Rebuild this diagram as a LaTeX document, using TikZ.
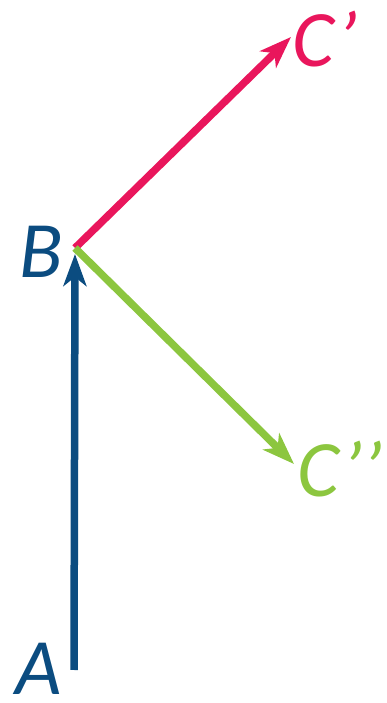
\documentclass[tikz,border=0pt]{standalone}
\usepackage{fontspec}
\setmainfont{Carlito}
\usepackage{xcolor}
\usepackage{tikz}
\usetikzlibrary{arrows.meta, positioning, calc}

\definecolor{vecblue}{RGB}{11,76,128}
\definecolor{vecpink}{RGB}{233,22,92}
\definecolor{vecgreen}{RGB}{140,198,63}

\begin{document}
\begin{tikzpicture}[
    x=1pt, y=1pt,
    lbl/.style={inner sep=0pt, font=\fontsize{80}{96}\selectfont\itshape},
    vec/.style={line width=7.5pt, -{Stealth[length=32pt, width=23pt, inset=9pt]}}
]
    \useasboundingbox (0,0) rectangle (386,703);
    \coordinate (A) at (74,33);
    \coordinate (B) at (75,455);
    \coordinate (C1) at (291,666);
    \coordinate (C2) at (294,239);
    \node[lbl, text=vecblue] (la) at (39,34) {A};
    \node[lbl, text=vecblue] (lb) at (41,451) {B};
    \node[lbl, text=vecpink, anchor=west] (lc1) at (292,664) {C’};
    \node[lbl, text=vecgreen, anchor=west] (lc2) at (297,234) {C’’};
    \draw[vec, vecblue, shorten >=6pt] (A) -- (B);
    \draw[vec, vecpink] (B) -- (C1);
    \draw[vec, vecgreen] (B) -- (C2);
\end{tikzpicture}
\end{document}
